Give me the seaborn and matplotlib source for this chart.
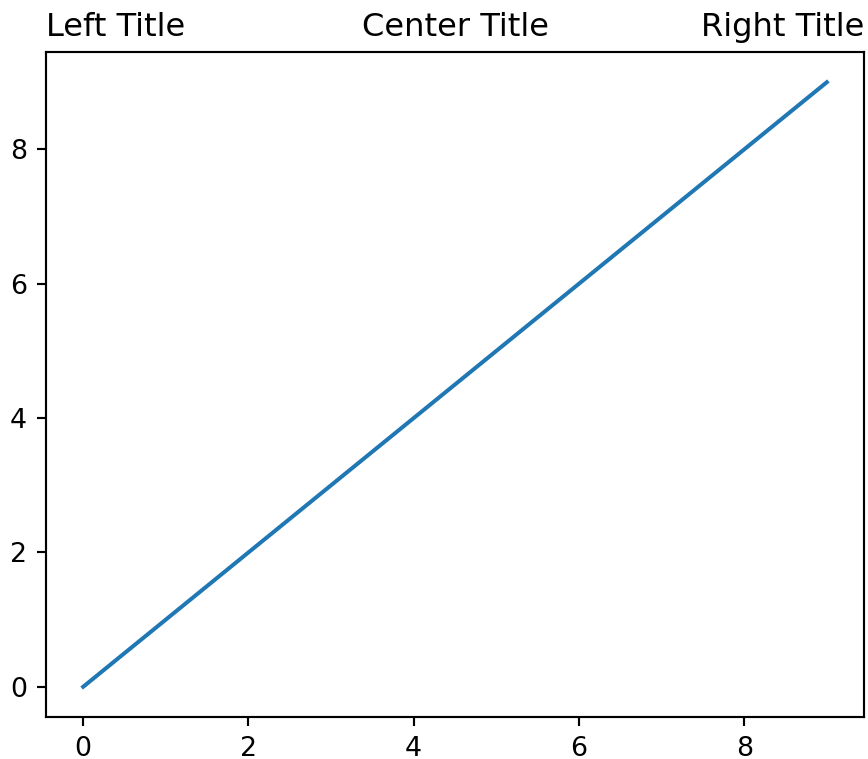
import matplotlib
matplotlib.use("Agg")
import matplotlib.pyplot as plt
import seaborn as sns
import pandas as pd

x_values = [0, 1, 2, 3, 4, 5, 6, 7, 8, 9]
y_values = [0, 1, 2, 3, 4, 5, 6, 7, 8, 9]
titles = {"left": "Left Title", "center": "Center Title", "right": "Right Title"}

df = pd.DataFrame({"x": x_values, "y": y_values})

DPI = 193
fig = plt.figure(figsize=(868 / DPI, 759 / DPI), dpi=DPI)
ax = fig.add_axes([46 / 868, (759 - 717) / 759, (864 - 46) / 868, (717 - 52) / 759])
sns.lineplot(data=df, x="x", y="y", ax=ax, color="#1f77b4", linewidth=1.5)
ax.set_xlabel("")
ax.set_ylabel("")
ax.set_xticks([0, 2, 4, 6, 8])
ax.set_yticks([0, 2, 4, 6, 8])
for loc, t in titles.items():
    ax.set_title(t, loc=loc)
fig.savefig("out.png", dpi=DPI)
